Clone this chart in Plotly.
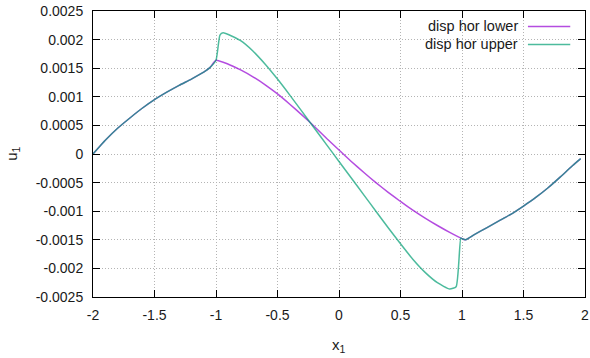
import plotly.graph_objects as go

# Shared outer segments (both sides coincide outside [-1, 1])
x_left = [-2.0, -1.9, -1.8, -1.7, -1.6, -1.5, -1.4, -1.3, -1.2, -1.1, -1.05, -1.0]
u_left = [0.0, 0.00024, 0.00045, 0.00063, 0.00080, 0.00095, 0.00108, 0.00120,
          0.00131, 0.00143, 0.00151, 0.00164]

x_right = [1.0, 1.03, 1.1, 1.2, 1.3, 1.4, 1.5, 1.6, 1.7, 1.8, 1.9, 1.965]
u_right = [-0.00148, -0.00150, -0.00141, -0.00129, -0.00117, -0.00105, -0.00091,
           -0.00076, -0.00059, -0.00040, -0.00020, -0.00008]

# Lower face, inner segment
x_lower_mid = [-0.9, -0.8, -0.7, -0.6, -0.5, -0.4, -0.3, -0.2, -0.1, 0.0,
               0.1, 0.2, 0.3, 0.4, 0.5, 0.6, 0.7, 0.8, 0.9]
u_lower_mid = [0.00157, 0.00147, 0.00135, 0.00121, 0.00105, 0.00087, 0.00068,
               0.00048, 0.00027, 0.00007, -0.00013, -0.00032, -0.00050,
               -0.00067, -0.00083, -0.00098, -0.00112, -0.00125, -0.00137]

# Upper face, inner segment
x_upper_mid = [-0.968, -0.942, -0.9, -0.8, -0.7, -0.6, -0.5, -0.4, -0.3, -0.2,
               -0.1, 0.0, 0.1, 0.2, 0.3, 0.4, 0.5, 0.6, 0.7, 0.8, 0.9, 0.952, 0.99]
u_upper_mid = [0.00208, 0.00212, 0.00209, 0.00198, 0.00180, 0.00157, 0.00131,
               0.00103, 0.00074, 0.00045, 0.00016, -0.00013, -0.00042,
               -0.00071, -0.00100, -0.00129, -0.00157, -0.00184, -0.00207,
               -0.00225, -0.00236, -0.00232, -0.00147]

x_lower = x_left + x_lower_mid + x_right
u_lower = u_left + u_lower_mid + u_right
x_upper = x_left + x_upper_mid + x_right
u_upper = u_left + u_upper_mid + u_right

x_ticks = [-2, -1.5, -1, -0.5, 0, 0.5, 1, 1.5, 2]
x_tick_text = ["-2", "-1.5", "-1", "-0.5", "0", "0.5", "1", "1.5", "2"]
y_ticks = [0.0025, 0.002, 0.0015, 0.001, 0.0005, 0, -0.0005, -0.001, -0.0015, -0.002, -0.0025]
y_tick_text = ["0.0025", "0.002", "0.0015", "0.001", "0.0005", "0", "-0.0005",
               "-0.001", "-0.0015", "-0.002", "-0.0025"]

series_names = ["disp hor lower", "disp hor upper"]
purple = "rgba(148,0,211,0.7)"
green = "rgba(0,158,115,0.7)"

FONT = "Liberation Sans"

fig = go.Figure()
fig.add_trace(go.Scatter(x=x_lower, y=u_lower, mode="lines", name=series_names[0],
                         line=dict(color=purple, width=1.5, shape="spline", smoothing=0.5)))
fig.add_trace(go.Scatter(x=x_upper, y=u_upper, mode="lines", name=series_names[1],
                         line=dict(color=green, width=1.5, shape="spline", smoothing=0.5)))

axis_common = dict(
    showline=True, linecolor="#000000", linewidth=1, mirror="ticks",
    ticks="inside", ticklen=7, tickcolor="#000000", tickwidth=1,
    showgrid=True, gridcolor="#b4b4b4", griddash="1px,2px", gridwidth=1,
    zeroline=False, automargin=False,
    tickfont=dict(family=FONT, size=14, color="#1a1a1a"),
)

fig.update_xaxes(range=[-2, 2], tickvals=x_ticks, ticktext=x_tick_text,
                 ticklabelstandoff=5, **axis_common)
fig.update_yaxes(range=[-0.0025, 0.0025], tickvals=y_ticks, ticktext=y_tick_text,
                 ticklabelstandoff=6, **axis_common)

# Axis titles
fig.add_annotation(text="x<sub>1</sub>", xref="paper", yref="paper", x=0.5, y=-0.17,
                   showarrow=False, font=dict(family=FONT, size=15, color="#1a1a1a"),
                   xanchor="center", yanchor="middle")
fig.add_annotation(text="u<sub>1</sub>", xref="paper", yref="paper", x=-0.165, y=0.5,
                   textangle=-90, showarrow=False,
                   font=dict(family=FONT, size=15, color="#1a1a1a"),
                   xanchor="center", yanchor="middle")

# Key in the upper right: label text followed by a line sample
key_rows = [(series_names[0], purple, 0.946), (series_names[1], green, 0.883)]
for name, color, yk in key_rows:
    fig.add_annotation(text=name, xref="paper", yref="paper", x=0.868, y=yk,
                       xanchor="right", yanchor="middle", showarrow=False,
                       font=dict(family=FONT, size=14.5, color="#1a1a1a"))
    fig.add_shape(type="line", xref="paper", yref="paper",
                  x0=0.884, x1=0.970, y0=yk, y1=yk,
                  line=dict(color=color, width=1.5))

fig.update_layout(
    width=590, height=358,
    margin=dict(l=93, r=5, t=11, b=61),
    plot_bgcolor="#ffffff", paper_bgcolor="#ffffff",
    showlegend=False,
)

fig.write_html("out.html")
